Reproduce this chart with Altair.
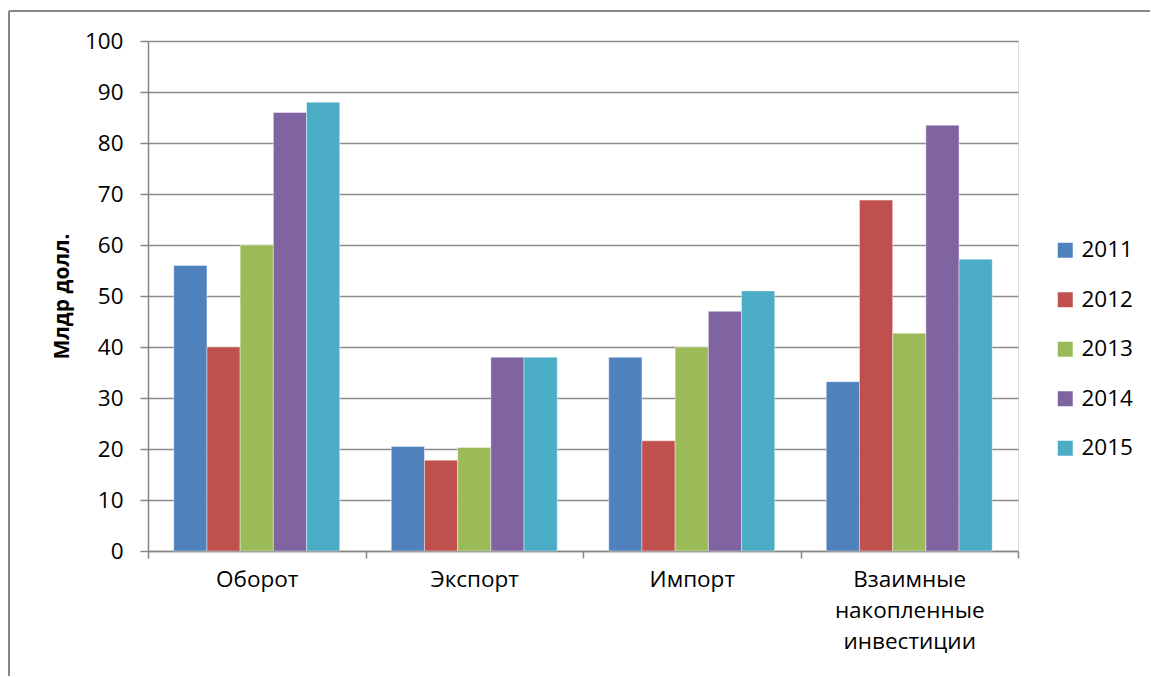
import altair as alt
import pandas as pd

categories = ["Оборот", "Экспорт", "Импорт", "Взаимные накопленные инвестиции"]
years = ["2011", "2012", "2013", "2014", "2015"]
values_2011 = [56, 20.5, 38, 33.2]
values_2012 = [40, 17.8, 21.6, 68.8]
values_2013 = [60, 20.3, 40, 42.7]
values_2014 = [86, 38, 47, 83.5]
values_2015 = [88, 38, 51, 57.2]
colors = ["#4F81BD", "#C0504D", "#9BBB59", "#8064A2", "#4BACC6"]

series = [values_2011, values_2012, values_2013, values_2014, values_2015]
rows = []
for y, vals in zip(years, series):
    for c, v in zip(categories, vals):
        rows.append({"cat": c, "year": y, "value": v})
df = pd.DataFrame(rows)

FONT = "Open Sans"

bars = alt.Chart(df).mark_bar(stroke="#ffffff", strokeWidth=0.6, strokeOpacity=0.7).encode(
    x=alt.X("cat:N", sort=categories,
            scale=alt.Scale(paddingInner=0, paddingOuter=0),
            axis=alt.Axis(title=None, labelAngle=0, labelExpr="split(datum.label, ' ')",
                          labelFontSize=22.5, labelFont=FONT, labelColor="#000000",
                          labelLineHeight=31, labelPadding=10,
                          tickBand="extent", tickSize=7, tickColor="#868686",
                          domainColor="#868686", domainWidth=1.5, tickWidth=1.5)),
    xOffset=alt.XOffset("year:N", sort=years,
                        scale=alt.Scale(paddingInner=0, paddingOuter=0.776)),
    y=alt.Y("value:Q", scale=alt.Scale(domain=[0, 100]),
            axis=alt.Axis(title="Млдр долл.", values=list(range(0, 101, 10)),
                          titleFont=FONT, titleFontSize=21, titleFontWeight="bold",
                          titleColor="#000000", titlePadding=12,
                          labelFont=FONT, labelFontSize=22.5, labelColor="#000000",
                          labelPadding=17, tickSize=8, tickColor="#868686", tickWidth=1.5,
                          domainColor="#868686", domainWidth=1.5,
                          grid=True, gridColor="#8c8c8c", gridWidth=1.5)),
    color=alt.Color("year:N", sort=years,
                    scale=alt.Scale(domain=years, range=colors),
                    legend=alt.Legend(title=None, orient="none", legendX=906, legendY=198,
                                      symbolType="square", symbolSize=225,
                                      symbolStrokeWidth=0,
                                      labelFont=FONT, labelFontSize=22.5, labelColor="#000000",
                                      labelOffset=5, rowPadding=26.5)),
)

one = pd.DataFrame({"a": [0]})
top_border = alt.Chart(one).mark_rule(color="#868686", strokeWidth=2).encode(
    x=alt.value(-139), x2=alt.value(1002), y=alt.value(-30)
)
left_border = alt.Chart(one).mark_rule(color="#868686", strokeWidth=2).encode(
    x=alt.value(-139), y=alt.value(-30), y2=alt.value(635)
)

chart = alt.layer(top_border, left_border, bars).properties(
    width=870, height=510,
    padding={"left": 8, "top": 10, "right": 0, "bottom": 0},
).configure_view(stroke=None).configure(background="#ffffff")

chart.save("out.html", embed_options={"renderer": "svg", "actions": False})
